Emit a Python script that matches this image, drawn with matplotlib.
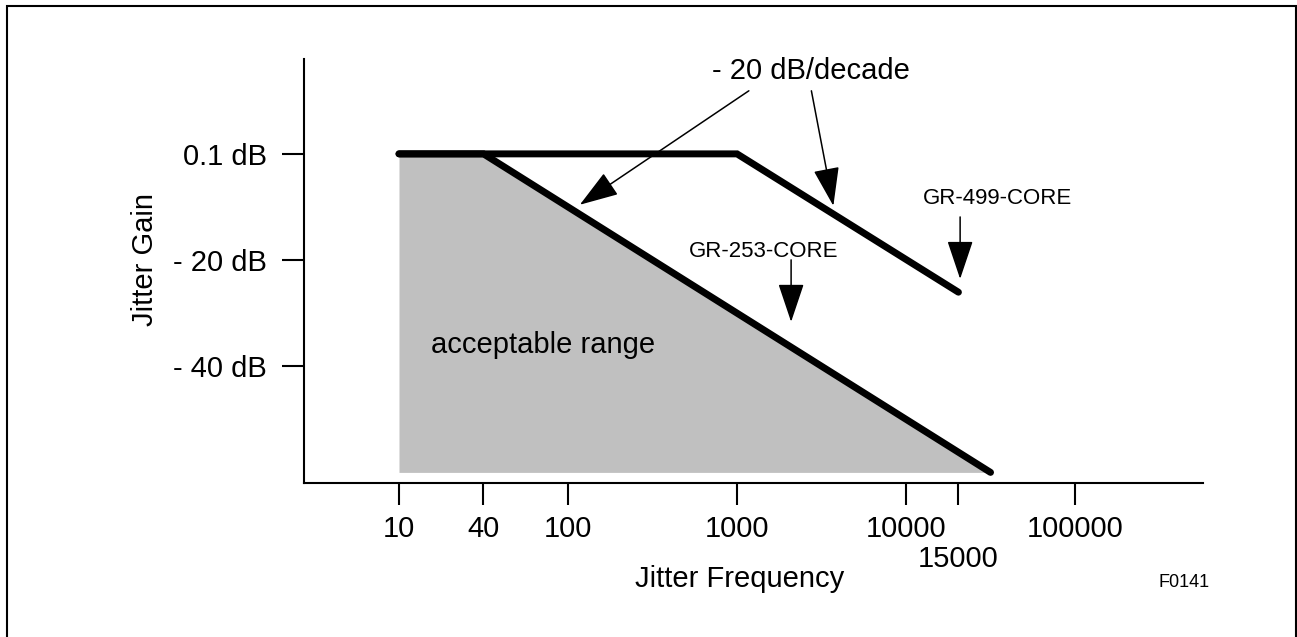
import numpy as np
import matplotlib
matplotlib.use("Agg")
import matplotlib.pyplot as plt
from matplotlib.patches import Rectangle

plt.rcParams['font.family'] = ['Liberation Sans', 'DejaVu Sans']

## data (x in schematic log10 positions as drawn on the chart)
tick_labels = ['10', '40', '100', '1000', '10000', '15000', '100000']
tick_pos = [1.0, 1.5, 2.0, 3.0, 4.0, 4.31, 5.0]
ytick_vals = [0.1, -20, -40]
ytick_labels = ['0.1 dB', '- 20 dB', '- 40 dB']

# mask lines: GR-253-CORE and GR-499-CORE
gr253_x = [1.0, 1.5, 4.5]
gr253_y = [0.1, 0.1, -60]
gr499_x = [1.0, 3.0, 4.31]
gr499_y = [0.1, 0.1, -26]
fill_bottom = -60

W, H = 1297, 637
fig = plt.figure(figsize=(W / 100, H / 100), dpi=100)
ax = fig.add_axes([304 / W, 1 - 483 / H, 899 / W, 424 / H])

# acceptable range (grey area under GR-253)
ax.fill_between(gr253_x, gr253_y, fill_bottom, color='#c0c0c0', lw=0, zorder=1)

ax.plot(gr499_x, gr499_y, color='k', lw=5, solid_capstyle='round', solid_joinstyle='miter', zorder=3)
ax.plot(gr253_x, gr253_y, color='k', lw=5, solid_capstyle='round', solid_joinstyle='miter', zorder=3)

ax.set_xlim(0.438, 5.757)
ax.set_ylim(-62.0, 18.0)

for s in ['top', 'right']:
    ax.spines[s].set_visible(False)
for s in ['left', 'bottom']:
    ax.spines[s].set_linewidth(1.5)

ax.set_xticks(tick_pos)
ax.set_xticklabels(tick_labels)
ax.set_yticks(ytick_vals)
ax.set_yticklabels(ytick_labels)
ax.tick_params(axis='x', length=16, width=1.5, pad=7, labelsize=21)
ax.tick_params(axis='y', length=16, width=1.5, pad=10.5, labelsize=21)
# 15000 sits one row lower
ax.xaxis.get_major_ticks()[5].set_pad(7 + 21.5)

# annotations
arr = dict(arrowstyle='-|>,head_length=1.22,head_width=0.41', color='k', lw=1.1,
           shrinkA=0, shrinkB=0, mutation_scale=20)
ax.annotate('', xy=(2.07, -9.5), xytext=(3.07, 12.0), arrowprops=arr)
ax.annotate('', xy=(3.57, -9.7), xytext=(3.44, 12.0), arrowprops=arr)
ax.annotate('', xy=(4.32, -23.5), xytext=(4.32, -11.8), arrowprops=arr)
ax.annotate('', xy=(3.32, -31.6), xytext=(3.32, -19.9), arrowprops=arr)

ax.text(3.44, 14.25, '- 20 dB/decade', ha='center', va='baseline', fontsize=21)
ax.text(4.54, -9.3, 'GR-499-CORE', ha='center', va='baseline', fontsize=16)
ax.text(3.16, -19.3, 'GR-253-CORE', ha='center', va='baseline', fontsize=16)
ax.text(1.19, -37.4, 'acceptable range', ha='left', va='baseline', fontsize=21, zorder=4)

fig.text(740 / W, 1 - 587 / H, 'Jitter Frequency', ha='center', va='baseline', fontsize=21)
fig.text(145 / W, 1 - 260 / H, 'Jitter Gain', ha='center', va='center', rotation=90, fontsize=21)
fig.text(1159 / W, 1 - 587 / H, 'F0141', ha='left', va='baseline', fontsize=13,
         family=['Liberation Sans Narrow', 'Liberation Sans'])

# outer frame
fig.patches.append(Rectangle((7 / W, -0.02), 1289 / W, 1.02 - 6 / H, transform=fig.transFigure,
                             fill=False, edgecolor='k', lw=1.5, clip_on=False))

fig.savefig('out.png', dpi=100)
